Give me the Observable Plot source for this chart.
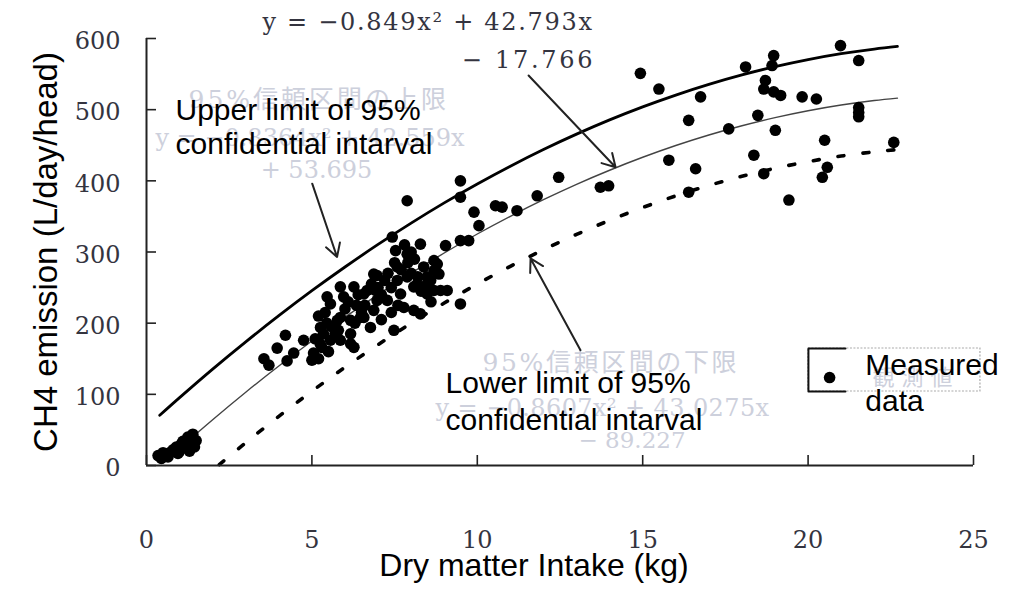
<!DOCTYPE html>
<html><head><meta charset="utf-8">
<script src="https://cdn.jsdelivr.net/npm/d3@7"></script>
<script src="https://cdn.jsdelivr.net/npm/@observablehq/plot@0.6"></script>
<style>body{margin:0;background:#fff} svg{display:block}</style>
</head><body><div id="chart"></div>
<script>
const xTicks = [0, 5, 10, 15, 20, 25];
const yTicks = [0, 100, 200, 300, 400, 500, 600];

// measured data [DMI kg, CH4 L/day/head]
const measured = [
  [0.35,14],[0.45,10],[0.55,15],[0.65,12],[0.5,18],[0.8,22],[0.9,26],[1.0,20],[1.05,30],[1.15,27],
  [1.2,33],[1.3,30],[1.35,37],[1.4,44],[1.45,26],[1.3,20],[0.95,17],[1.1,34],[0.7,18],[1.25,40],[1.5,35],
  [3.55,150],[3.7,141],[3.95,165],[4.2,183],[4.25,147],[4.45,158],[4.75,176],[5.0,148],[5.05,158],[5.1,178],
  [5.3,166],[5.25,171],[5.35,185],[5.26,194],[5.45,200],[5.56,176],[5.86,176],[5.46,237],[5.56,227],[5.86,251],
  [5.96,237],[6.17,171],[6.17,185],[6.27,166],[6.17,204],[5.77,204],[5.86,208],[6.27,251],[6.47,208],[6.57,208],
  [6.57,241],[6.67,246],[6.77,194],[6.87,218],[6.87,269],[6.92,246],[6.97,232],[6.97,267],[7.28,232],[7.43,321],
  [7.48,190],[7.53,302],[7.58,260],[7.58,279],[7.68,241],[7.78,222],[7.88,265],[7.88,297],[7.88,372],[8.08,218],
  [8.08,251],[8.18,255],[8.28,213],[8.28,311],[8.38,279],[8.48,241],[8.48,255],[8.48,265],[8.59,260],[8.69,246],
  [8.69,274],[8.69,288],[8.79,283],[8.84,269],[8.89,246],[9.04,309],[9.09,246],[9.49,227],[9.49,316],[9.74,316],
  [9.49,377],[9.49,400],[9.9,356],[10.05,337],[10.55,365],[10.75,363],[11.2,358],[11.81,379],[12.46,405],[13.72,391],[13.97,393],
  [5.2,210],[5.4,215],[5.6,195],[5.7,185],[6.0,220],[6.1,230],[6.35,225],[6.4,240],[6.5,215],[6.8,255],
  [7.0,250],[7.1,240],[7.2,260],[7.3,270],[7.4,250],[7.5,285],[7.7,275],[7.8,310],[7.9,285],[8.0,270],
  [8.0,300],[8.1,290],[8.2,265],[8.3,245],[8.6,230],[7.6,225],[7.4,215],[7.1,205],[6.6,225],[6.3,200],
  [5.8,190],[5.5,160],[5.2,150],
  [14.93,551],[15.49,529],[16.75,518],[16.39,485],[17.6,473],[18.11,560],[18.96,576],[18.91,562],[18.71,541],[18.66,529],
  [18.96,525],[19.17,520],[19.82,518],[20.25,515],[20.98,590],[21.53,569],[21.53,503],[21.53,496],[21.53,490],[18.48,492],
  [19.01,471],[20.5,457],[22.59,454],[15.79,429],[16.6,417],[18.36,436],[18.66,410],[20.58,419],[20.43,405],[16.39,384],[19.42,373]
];

// curves
const upperX = [0.4,1,2,3,4,5,6,7,8,9,10,11,12,13,14,15,16,17,18,19,20,21,22,22.7];
const upperY = [70.6,95.4,135.5,173.8,210.5,245.6,278.9,310.6,340.6,369.0,395.6,420.6,444.0,465.6,485.6,503.9,520.5,535.5,548.8,560.4,570.3,578.6,585.2,588.8];
const meanX = [0.5,1,2,3,4,5,6,7,8,9,10,11,12,13,14,15,16,17,18,19,20,21,22,22.7];
const meanY = [3.4,24.2,64.4,103.0,139.8,175.0,208.4,240.2,270.2,298.6,325.3,350.2,373.5,395.1,414.9,433.1,449.6,464.4,477.4,488.8,498.5,506.5,512.8,516.2];
const lowerX = [2.2,3,4,5,6,7,8,9,10,11,12,13,14,15,16,17,18,19,20,21,22,22.7];
const lowerY = [1.3,32.1,69.1,104.4,138.0,169.8,199.9,228.3,255.0,279.9,303.2,324.7,344.5,362.5,378.9,393.5,406.4,417.6,427.0,434.8,440.8,444.0];

const serif = "'DejaVu Serif', 'Noto Sans CJK JP', serif";
const sans = "'Liberation Sans', Arial, sans-serif";
const ghost = "#cdd0dc";
const ink = "#34343f";

const idx = (arr) => arr.map((_, i) => i);

const chart = Plot.plot({
  width: 1012, height: 589,
  marginLeft: 146, marginRight: 39, marginTop: 38, marginBottom: 124,
  x: {domain: [0, 25]},
  y: {domain: [0, 600]},
  style: {background: "#fff", overflow: "visible"},
  marks: [
    // faint original Japanese labels
    Plot.text(["95%信頼区間の上限"], {x: 1.27, y: 514, textAnchor: "start", fontFamily: serif, fontSize: 25, fill: ghost}),
    Plot.text(["y = −0.8364x² + 42.559x"], {x: 0.27, y: 459.5, textAnchor: "start", fontFamily: serif, fontSize: 24, fill: ghost}),
    Plot.text(["+ 53.695"], {x: 3.45, y: 414.5, textAnchor: "start", fontFamily: serif, fontSize: 24, fill: ghost}),
    Plot.text(["95%信頼区間の下限"], {x: 10.16, y: 144.7, textAnchor: "start", fontFamily: serif, fontSize: 25, fill: ghost}),
    Plot.text(["y = −0.8607x² + 43.0275x"], {x: 8.74, y: 80.1, textAnchor: "start", fontFamily: serif, fontSize: 24, fill: ghost}),
    Plot.text(["− 89.227"], {x: 13.06, y: 35.1, textAnchor: "start", fontFamily: serif, fontSize: 23, fill: ghost}),

    // legend box
    Plot.rect([0], {x1: 20.01, x2: 25.21, y1: 104, y2: 164.4, fill: "none", stroke: "#aaa", strokeWidth: 1.2, strokeDasharray: "2,1.5"}),
    Plot.line([[21.13,164.4],[20.01,164.4],[20.01,104],[21.13,104]], {x: d => d[0], y: d => d[1], stroke: "#111", strokeWidth: 2}),
    Plot.text(["観測値"], {x: 21.95, y: 123.6, textAnchor: "start", fontFamily: "'Noto Sans CJK JP', sans-serif", fontSize: 22, fill: ghost}),
    Plot.dot([0], {x: 20.65, y: 123.6, r: 5.8, fill: "#000"}),

    // curves
    Plot.line(idx(upperX), {x: i => upperX[i], y: i => upperY[i], stroke: "#000", strokeWidth: 2.8, curve: "catmull-rom"}),
    Plot.line(idx(meanX), {x: i => meanX[i], y: i => meanY[i], stroke: "#444", strokeWidth: 1.4, curve: "catmull-rom"}),
    Plot.line(idx(lowerX), {x: i => lowerX[i], y: i => lowerY[i], stroke: "#000", strokeWidth: 3.6, strokeDasharray: "6,19", curve: "catmull-rom"}),

    // measured points
    Plot.dot(measured, {x: d => d[0], y: d => d[1], r: 5.8, fill: "#000"}),

    // arrows
    Plot.arrow([0], {x1: 11.55, y1: 548, x2: 14.18, y2: 419, stroke: "#222", strokeWidth: 2, headLength: 11}),
    Plot.arrow([0], {x1: 5.01, y1: 396, x2: 5.76, y2: 293, stroke: "#222", strokeWidth: 2, headLength: 11}),
    Plot.arrow([0], {x1: 13.12, y1: 162, x2: 11.61, y2: 291, stroke: "#222", strokeWidth: 2, headLength: 11}),

    // axes (inward ticks)
    Plot.ruleX([0], {stroke: "#222", strokeWidth: 2}),
    Plot.ruleY([0], {stroke: "#222", strokeWidth: 2}),
    Plot.axisX({ticks: xTicks, tickSize: 10, dy: -10, tickFormat: () => "", label: null, stroke: "#222", strokeWidth: 1.6}),
    Plot.axisY({ticks: yTicks, tickSize: 10, dx: 10, tickFormat: () => "", label: null, stroke: "#222", strokeWidth: 1.6}),
    Plot.text(xTicks, {x: d => d, frameAnchor: "bottom", lineAnchor: "middle", dy: 75, fontFamily: serif, fontSize: 24, fill: ink}),
    Plot.text(yTicks, {y: d => d, frameAnchor: "left", lineAnchor: "middle", dx: -26, dy: 3, textAnchor: "end", fontFamily: serif, fontSize: 24, fill: ink}),

    // equation
    Plot.text(["y = −0.849x² + 42.793x"], {x: 3.507, y: 622.5, textAnchor: "start", fontFamily: serif, fontSize: 24, fill: ink}),
    Plot.text(["− 17.766"], {x: 13.57, y: 569, textAnchor: "end", fontFamily: serif, fontSize: 24, fill: ink}),

    // English annotations
    Plot.text(["Upper limit of 95%"], {x: 0.877, y: 498.8, textAnchor: "start", fontFamily: sans, fontSize: 30, fill: "#000"}),
    Plot.text(["confidential intarval"], {x: 0.877, y: 451, textAnchor: "start", fontFamily: sans, fontSize: 30, fill: "#000"}),
    Plot.text(["Lower limit of 95%"], {x: 9.04, y: 115.2, textAnchor: "start", fontFamily: sans, fontSize: 30, fill: "#000"}),
    Plot.text(["confidential intarval"], {x: 9.04, y: 63.2, textAnchor: "start", fontFamily: sans, fontSize: 30, fill: "#000"}),
    Plot.text(["Measured"], {x: 21.73, y: 140.5, textAnchor: "start", fontFamily: sans, fontSize: 30, fill: "#000"}),
    Plot.text(["data"], {x: 21.73, y: 90, textAnchor: "start", fontFamily: sans, fontSize: 30, fill: "#000"}),

    // axis titles
    Plot.text(["CH4 emission (L/day/head)"], {frameAnchor: "left", textAnchor: "middle", lineAnchor: "middle", dx: -100, rotate: -90, fontFamily: sans, fontSize: 33, fill: "#000"}),
    Plot.text(["Dry matter Intake (kg)"], {frameAnchor: "bottom", textAnchor: "middle", lineAnchor: "middle", dx: -26, dy: 100, fontFamily: sans, fontSize: 32, fill: "#000"})
  ]
});

// letter spacing to mimic the wide full-width fonts of the original
const spacing = new Map([
  ["y = −0.849x² + 42.793x", 1.7],
  ["− 17.766", 2.75],
  ["95%信頼区間の上限", 3],
  ["95%信頼区間の下限", 2.6],
  ["y = −0.8607x² + 43.0275x", 0.4],
  ["観測値", 7]
]);
d3.select(chart).selectAll("text").each(function () {
  const s = spacing.get(this.textContent);
  if (s != null) this.setAttribute("letter-spacing", s);
});
document.getElementById("chart").append(chart);
</script>
</body></html>
